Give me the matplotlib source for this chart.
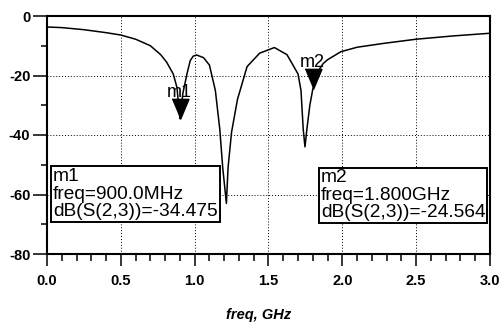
import numpy as np
import matplotlib
matplotlib.use("Agg")
import matplotlib.pyplot as plt
from matplotlib.ticker import MultipleLocator

plt.rcParams['font.family'] = ['Liberation Sans', 'DejaVu Sans']

# S(2,3) in dB
freq = [0.0, 0.1, 0.25, 0.4, 0.5, 0.6, 0.7, 0.77, 0.81, 0.855, 0.88, 0.9, 0.905,
        0.92, 0.95, 0.97, 0.99, 1.013, 1.06, 1.10, 1.14, 1.17, 1.19, 1.215,
        1.226, 1.25, 1.29, 1.355, 1.44, 1.54, 1.625, 1.66, 1.70, 1.72, 1.735,
        1.747, 1.76, 1.78, 1.80, 1.83, 1.87, 1.90, 1.99, 2.1, 2.28, 2.5, 2.75, 3.0]
s23_db = [-3.7, -3.9, -4.6, -5.6, -6.4, -7.8, -10.0, -13.0, -15.5, -19.5, -24.0,
          -34.475, -33.0, -26.0, -19.0, -15.0, -13.5, -13.1, -14.0, -16.5, -25.0,
          -38.0, -51.0, -63.0, -51.0, -39.0, -28.0, -17.0, -12.5, -10.6, -13.0,
          -16.0, -19.5, -25.0, -38.0, -44.0, -38.0, -30.0, -24.564, -19.0, -16.0,
          -14.7, -12.0, -10.5, -9.2, -7.8, -6.7, -5.8]

marker_names = ['m1', 'm2']
marker_freq = [0.9, 1.8]
marker_db = [-34.475, -24.564]
marker_freq_text = ['900.0MHz', '1.800GHz']

fig = plt.figure(figsize=(5.02, 3.27), dpi=100)
ax = fig.add_axes([47/502, 1-254/327, 443/502, 238/327])

ax.plot(freq, s23_db, color='black', lw=1.1, solid_joinstyle='round')

# inverted triangle with its tip on the point
tri = [(-0.84, 2), (0.84, 2), (0, 0)]
ax.plot(marker_freq, marker_db, linestyle='none', marker=tri, markersize=29,
        color='black', zorder=5)
for name, fx, fy in zip(marker_names, marker_freq, marker_db):
    ax.annotate(name, (fx, fy), xytext=(-1, 22), textcoords='offset pixels',
                ha='center', va='baseline', fontsize=13, zorder=6)

box_pos = [(0.0135, 0.252), (0.618, 0.247)]
for name, ftxt, db, (bx, by) in zip(marker_names, marker_freq_text, marker_db, box_pos):
    ax.text(bx, by, f"{name}\nfreq={ftxt}\ndB(S(2,3))={db:.3f}", transform=ax.transAxes,
            ha='left', va='center', fontsize=13.8, linespacing=1.02, zorder=7,
            bbox=dict(boxstyle='square,pad=0.1', fc='white', ec='black', lw=1.4))

ax.set_xlim(0, 3.0)
ax.set_ylim(-80, 0)
ax.xaxis.set_major_locator(MultipleLocator(0.5))
ax.xaxis.set_minor_locator(MultipleLocator(0.1))
ax.yaxis.set_major_locator(MultipleLocator(20))
ax.yaxis.set_minor_locator(MultipleLocator(10))
ax.xaxis.set_major_formatter(plt.FormatStrFormatter('%.1f'))
ax.yaxis.set_major_formatter(plt.FormatStrFormatter('%d'))

ax.grid(True, which='major', color='black', linestyle=(0, (1, 2)), lw=0.7)
for s in ax.spines.values():
    s.set_linewidth(1.5)

ax.tick_params(axis='y', which='major', direction='out', length=10, width=1.1, pad=2)
ax.tick_params(axis='y', which='minor', direction='out', length=4.3, width=1.1)
ax.tick_params(axis='x', which='major', direction='out', length=8.6, width=1.1, pad=6)
ax.tick_params(axis='x', which='minor', direction='out', length=5, width=1.1)
for lab in ax.get_xticklabels() + ax.get_yticklabels():
    lab.set_fontweight('bold')
    lab.set_fontsize(10.5)

ax.text(0.477, -0.255, 'freq, GHz', transform=ax.transAxes, ha='center', va='center',
        fontsize=10.5, fontweight='bold', fontstyle='italic')

fig.savefig('out.png', dpi=100)
